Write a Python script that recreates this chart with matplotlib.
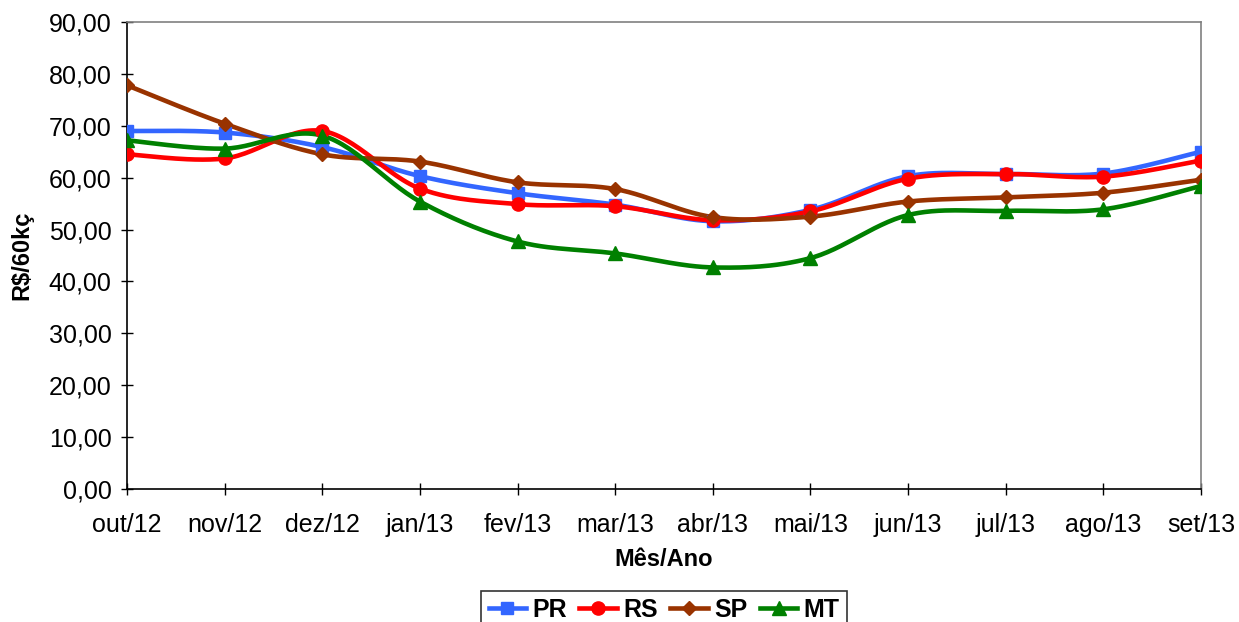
import numpy as np
import matplotlib
matplotlib.use("Agg")
import matplotlib.pyplot as plt
from matplotlib.lines import Line2D

plt.rcParams['font.family'] = ['Liberation Sans', 'DejaVu Sans']

months = ["out/12", "nov/12", "dez/12", "jan/13", "fev/13", "mar/13",
          "abr/13", "mai/13", "jun/13", "jul/13", "ago/13", "set/13"]
pr = [69.0, 68.7, 65.9, 60.3, 57.0, 54.8, 51.6, 53.8, 60.3, 60.7, 60.8, 65.0]
rs = [64.5, 63.7, 69.0, 57.9, 54.9, 54.5, 51.8, 53.5, 59.8, 60.7, 60.2, 63.3]
sp = [77.8, 70.4, 64.5, 63.1, 59.1, 57.8, 52.4, 52.5, 55.4, 56.2, 57.1, 59.6]
mt = [67.2, 65.6, 68.1, 55.4, 47.7, 45.4, 42.7, 44.5, 52.8, 53.6, 53.9, 58.4]

series = [("PR", pr, "#3366FF", "s", 9),
          ("RS", rs, "#FF0000", "o", 9.5),
          ("SP", sp, "#993300", "D", 7),
          ("MT", mt, "#008000", "^", 9.5)]


def smooth(x, y, n=30, t=0.5):
    x = np.asarray(x, float)
    y = np.asarray(y, float)
    xs, ys = [], []
    N = len(x)
    for i in range(N - 1):
        p0 = (x[max(i - 1, 0)], y[max(i - 1, 0)])
        p1 = (x[i], y[i])
        p2 = (x[i + 1], y[i + 1])
        p3 = (x[min(i + 2, N - 1)], y[min(i + 2, N - 1)])
        c1 = (p1[0] + (p2[0] - p0[0]) * t / 3, p1[1] + (p2[1] - p0[1]) * t / 3)
        c2 = (p2[0] - (p3[0] - p1[0]) * t / 3, p2[1] - (p3[1] - p1[1]) * t / 3)
        s = np.linspace(0, 1, n)
        bx = (1 - s) ** 3 * p1[0] + 3 * (1 - s) ** 2 * s * c1[0] + 3 * (1 - s) * s ** 2 * c2[0] + s ** 3 * p2[0]
        by = (1 - s) ** 3 * p1[1] + 3 * (1 - s) ** 2 * s * c1[1] + 3 * (1 - s) * s ** 2 * c2[1] + s ** 3 * p2[1]
        xs.extend(bx)
        ys.extend(by)
    return np.array(xs), np.array(ys)


fig = plt.figure(figsize=(12.39, 6.22), dpi=100)
ax = fig.add_axes([127 / 1239, 1 - 489 / 622, (1201 - 127) / 1239, (489 - 22) / 622])

x = np.arange(len(months))
handles = []
for name, vals, col, mk, ms in series:
    sx, sy = smooth(x, vals)
    ax.plot(sx, sy, color=col, lw=3.3, zorder=3, solid_capstyle='round')
    ax.plot(x, vals, linestyle='none', marker=mk, color=col, ms=ms, zorder=4)
    handles.append(Line2D([], [], color=col, lw=3.3, marker=mk, ms=ms, label=name))

ax.set_xlim(0, len(months) - 1)
ax.set_ylim(0, 90)
ax.set_yticks(np.arange(0, 91, 10))
ax.set_yticklabels([f"{v:.2f}".replace(".", ",") for v in np.arange(0, 91, 10)])
ax.set_xticks(x)
ax.set_xticklabels(months)
ax.tick_params(axis='both', direction='inout', length=8, width=1, labelsize=18, colors='black')
ax.tick_params(axis='x', pad=13)
ax.tick_params(axis='y', pad=7)

for s in ['top', 'right']:
    ax.spines[s].set_color('#808080')
    ax.spines[s].set_linewidth(1.2)
for s in ['left', 'bottom']:
    ax.spines[s].set_color('black')
    ax.spines[s].set_linewidth(1.2)

ax.set_xlabel("Mês/Ano", fontsize=17, fontweight='bold', labelpad=8)
ax.set_ylabel("R$/60kç", fontsize=17, fontweight='bold', labelpad=11)

leg = fig.legend(handles=handles, loc='upper center', bbox_to_anchor=(664 / 1239, 1 - 590.5 / 622), ncol=4,
                 frameon=True, fancybox=False, edgecolor='black',
                 prop={'weight': 'bold', 'size': 18}, handlelength=1.5, handletextpad=0.25,
                 columnspacing=0.5, borderpad=0.3, borderaxespad=0)
leg.get_frame().set_linewidth(1.2)

fig.savefig("out.png", dpi=100)
